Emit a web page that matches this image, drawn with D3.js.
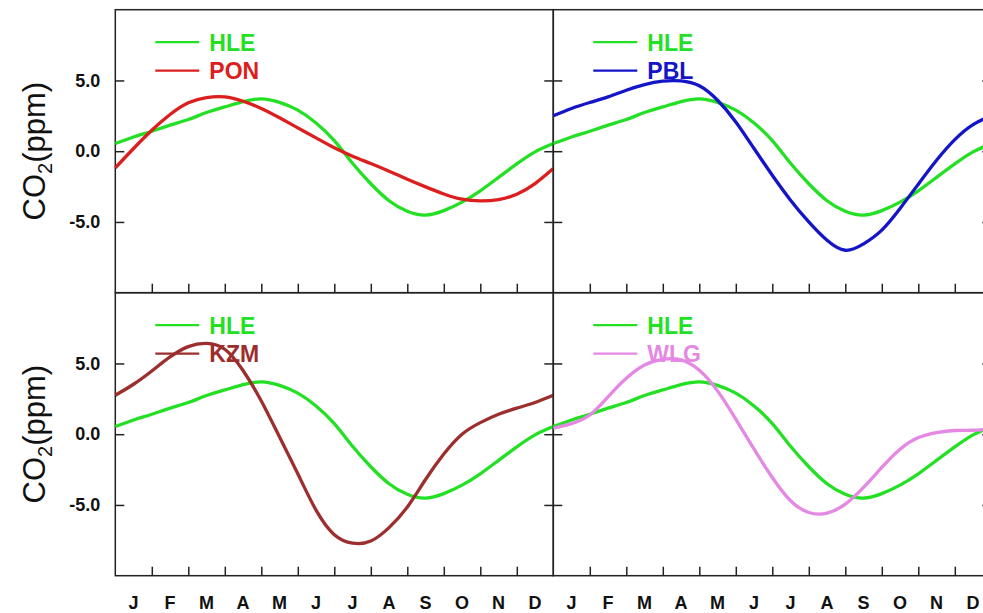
<!DOCTYPE html>
<html>
<head>
<meta charset="utf-8">
<script src="https://cdn.jsdelivr.net/npm/d3@7"></script>
<style>
body { margin:0; background:#fff; }
text { font-family:"Liberation Sans", Arial, sans-serif; }
</style>
</head>
<body>
<svg width="983" height="613"></svg>
<script>
var months = ["J","F","M","A","M","J","J","A","S","O","N","D"];
// reading positions, in months from 1 Jan
var pos = [0,0.5,1,1.5,2,2.5,3,3.5,4,4.5,5,5.5,6,6.5,7,7.5,8,8.5,9,9.5,10,10.5,11,11.5,12];
var HLE = [0.54,1.0,1.41,1.84,2.24,2.73,3.13,3.5,3.7,3.45,2.9,2.0,0.75,-0.85,-2.3,-3.5,-4.25,-4.52,-4.2,-3.6,-2.8,-1.85,-0.9,-0.05,0.54];
var PON = [-1.18,0.19,1.48,2.59,3.42,3.79,3.84,3.53,3.02,2.36,1.65,0.94,0.24,-0.35,-0.87,-1.41,-1.98,-2.52,-3.02,-3.39,-3.51,-3.42,-3.04,-2.29,-1.23];
var PBL = [2.5,3.02,3.44,3.84,4.31,4.71,4.95,4.97,4.62,3.6,2.07,0.19,-1.7,-3.46,-5.0,-6.3,-7.0,-6.55,-5.58,-4.05,-2.33,-0.64,0.82,1.88,2.5];
var KZM = [2.75,3.53,4.47,5.46,6.19,6.42,6.0,4.5,2.35,-0.2,-2.8,-5.37,-7.1,-7.7,-7.55,-6.6,-5.15,-3.2,-1.4,0.0,0.82,1.41,1.84,2.24,2.75];
var WLG = [0.42,0.75,1.36,2.64,3.95,4.89,5.29,5.25,4.52,3.06,1.06,-1.06,-3.06,-4.7,-5.53,-5.58,-4.94,-3.76,-2.35,-1.06,-0.24,0.12,0.26,0.28,0.38];
var yTicks = [-5, 0, 5];

var panels = [
	{ name:"PON", values:PON, color:"#dc1e1e", col:0, row:0 },
	{ name:"PBL", values:PBL, color:"#1414c8", col:1, row:0 },
	{ name:"KZM", values:KZM, color:"#9c2e2e", col:0, row:1 },
	{ name:"WLG", values:WLG, color:"#e488e4", col:1, row:1 }
];
var hleColor = "#24e024";

var W = 438, H = 283, X0 = 115.3, Y0 = 9.7;

var x = d3.scaleLinear().domain([0, 12]).range([0, W]);
var y = d3.scaleLinear().domain([-10, 10]).range([H, 0]);

var line = d3.line()
	.x(function(d){ return x(d[0]); })
	.y(function(d){ return y(d[1]); })
	.curve(d3.curveNatural);

var svg = d3.select("svg");

panels.forEach(function(p){
	var g = svg.append("g")
		.attr("transform", translate(X0 + p.col*W, Y0 + p.row*H));

	// frame
	g.append("rect")
		.attr("width", W).attr("height", H)
		.attr("fill", "none").attr("stroke", "#222").attr("stroke-width", 1.5);

	// y axes, ticks inside
	var left = g.append("g").call(d3.axisLeft(y).tickValues(yTicks).tickSize(-9).tickPadding(15)
		.tickFormat(function(d){ return d.toFixed(1); }));
	var right = g.append("g").attr("transform", translate(W, 0))
		.call(d3.axisRight(y).tickValues(yTicks).tickSize(-9).tickFormat(""));
	// month boundary ticks
	var bottom = g.append("g").attr("transform", translate(0, H))
		.call(d3.axisBottom(x).tickValues(d3.range(1, 12)).tickSize(-9).tickFormat(""));
	[left, right, bottom].forEach(function(a){
		a.select(".domain").remove();
		a.selectAll("line").attr("stroke", "#222").attr("stroke-width", 1.5);
	});
	left.selectAll("text")
		.attr("font-size", 18).attr("font-weight", "bold").attr("fill", "#111")
		.attr("font-family", "'Liberation Sans', Arial, sans-serif")
		.style("display", p.col == 0 ? null : "none");

	if (p.row == 1) {
		g.append("g").selectAll("text").data(months).enter().append("text")
			.attr("x", function(d, i){ return x(i + 0.5); })
			.attr("y", H + 33)
			.attr("text-anchor", "middle")
			.attr("font-size", 18).attr("font-weight", "bold").attr("fill", "#111")
			.text(function(d){ return d; });
	}

	if (p.col == 0) {
		var t = svg.append("text")
			.attr("transform", translate(45, Y0 + p.row*H + y(0)) + " rotate(-90)")
			.attr("text-anchor", "middle")
			.attr("font-size", 31).attr("fill", "#111");
		t.append("tspan").text("CO");
		t.append("tspan").attr("font-size", 20).attr("dy", 7).text("2");
		t.append("tspan").attr("dy", -7).text("(ppm)");
	}

	// data
	g.append("path")
		.datum(pos.map(function(m, i){ return [m, HLE[i]]; }))
		.attr("fill", "none").attr("stroke", hleColor).attr("stroke-width", 3.3)
		.attr("d", line);
	g.append("path")
		.datum(pos.map(function(m, i){ return [m, p.values[i]]; }))
		.attr("fill", "none").attr("stroke", p.color).attr("stroke-width", 3.3)
		.attr("d", line);

	// legend
	var leg = g.append("g").selectAll("g")
		.data([{ name:"HLE", color:hleColor }, { name:p.name, color:p.color }])
		.enter().append("g")
		.attr("transform", function(d, i){ return translate(0, 32.5 + i*28.5); });
	leg.append("line")
		.attr("x1", 40).attr("x2", 84)
		.attr("stroke", function(d){ return d.color; }).attr("stroke-width", 2.2);
	leg.append("text")
		.attr("x", 94).attr("dy", "0.37em")
		.attr("font-size", 23).attr("font-weight", "bold")
		.attr("fill", function(d){ return d.color; })
		.text(function(d){ return d.name; });
});

function translate(x, y){
	return "translate(" + x + "," + y + ")";
}
</script>
</body>
</html>
